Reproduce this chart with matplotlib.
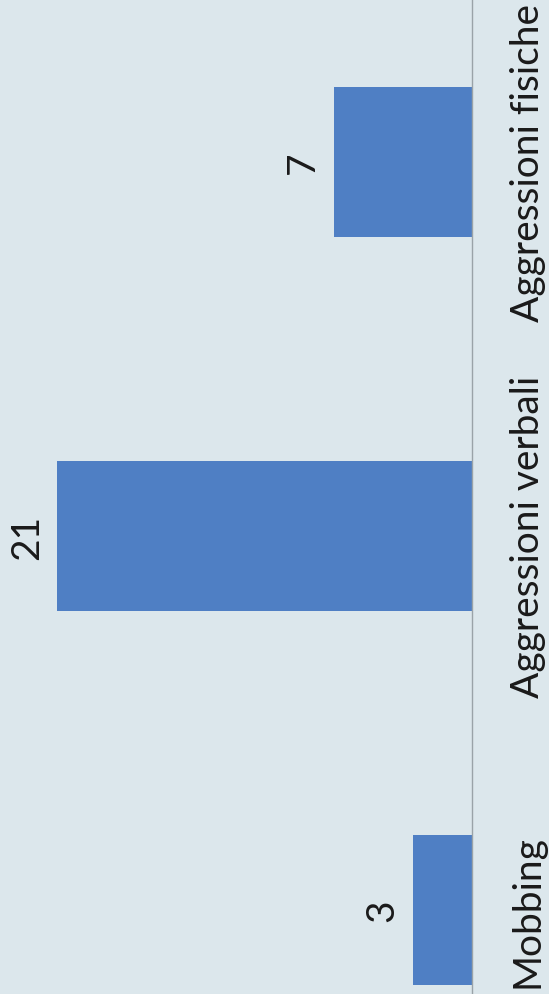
import matplotlib
matplotlib.use("Agg")
import matplotlib.pyplot as plt

categories = ["Mobbing", "Aggressioni verbali", "Aggressioni fisiche"]
values = [3, 21, 7]

bar_color = "#4f7fc4"
bg_color = "#dce7ec"

fig = plt.figure(figsize=(5.49, 9.95), dpi=100, facecolor=bg_color)
ax = fig.add_axes([0, 0, 472 / 549, 1])
ax.set_facecolor(bg_color)

pos = list(range(len(categories)))
ax.barh(pos, values, height=0.4, color=bar_color)

# value labels, rotated like the rest of the chart
for p, v in zip(pos, values):
    ax.annotate(str(v), xy=(v, p), xytext=(-22, 0), textcoords="offset points",
                rotation=90, ha="center", va="center", fontsize=28,
                family="Lato", color="#1a1a1a")

ax.set_xlim(23.9, 0)
ax.set_ylim(-0.224, 2.435)

ax.yaxis.tick_right()
ax.set_yticks(pos)
ax.set_yticklabels(categories, rotation=90, va="center", ha="left",
                   fontsize=28, family="Lato", color="#1a1a1a")
ax.tick_params(axis="y", length=0, pad=27)
ax.set_xticks([])

for s in ["top", "left", "bottom"]:
    ax.spines[s].set_visible(False)
ax.spines["right"].set_color("#9aa3a8")
ax.spines["right"].set_linewidth(1)

fig.savefig("out.png", dpi=100, facecolor=bg_color)
